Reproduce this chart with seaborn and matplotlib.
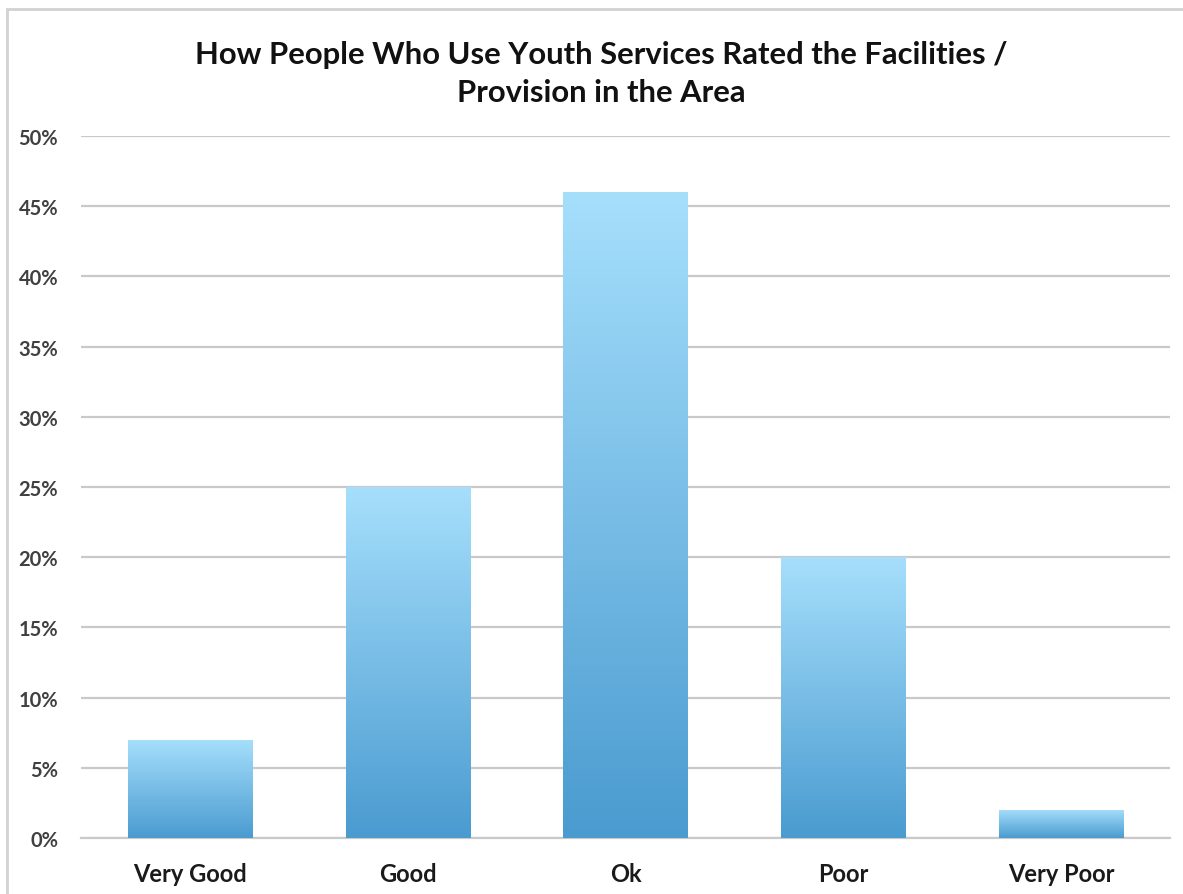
import matplotlib
matplotlib.use("Agg")
import matplotlib.pyplot as plt
from matplotlib.patches import Rectangle
from matplotlib.colors import LinearSegmentedColormap
from matplotlib.ticker import FuncFormatter
import numpy as np
import pandas as pd
import seaborn as sns

categories = ["Very Good", "Good", "Ok", "Poor", "Very Poor"]
shares = [0.07, 0.25, 0.46, 0.20, 0.02]
y_ticks = [0.0, 0.05, 0.10, 0.15, 0.20, 0.25, 0.30, 0.35, 0.40, 0.45, 0.50]
title = "How People Who Use Youth Services Rated the Facilities /\nProvision in the Area"

sns.set_theme(style="white")
plt.rcParams["font.family"] = ["Lato", "DejaVu Sans"]

df = pd.DataFrame({"rating": categories, "share": shares})

fig = plt.figure(figsize=(11.83, 8.95), dpi=100)
ax = fig.add_axes([81 / 1183, 1 - 839 / 895, (1170 - 81) / 1183, (839 - 137) / 895])

sns.barplot(data=df, x="rating", y="share", order=categories, ax=ax,
            width=0.57, color="#7fc0e8", saturation=1, zorder=3)

ax.set_ylim(0, 0.5)
ax.set_xlim(-0.5, len(categories) - 0.5)
ax.set_yticks(y_ticks)
ax.yaxis.set_major_formatter(FuncFormatter(lambda v, _: f"{round(v * 100)}%"))
ax.yaxis.grid(True, color="#c9c9c9", linewidth=1.6)
ax.set_axisbelow(True)
for side in ["top", "right", "left"]:
    ax.spines[side].set_visible(False)
ax.spines["bottom"].set_color("#c9c9c9")
ax.spines["bottom"].set_linewidth(1.6)
ax.set_xlabel("")
ax.set_ylabel("")
ax.tick_params(axis="y", length=0, pad=16.5, labelsize=14.5, labelcolor="#404040")
ax.tick_params(axis="x", length=0, pad=17, labelsize=17, labelcolor="#1a1a1a")
for lbl in ax.get_xticklabels():
    lbl.set_fontweight("bold")
for lbl in ax.get_yticklabels():
    lbl.set_fontweight("bold")

# vertical gradient fill inside each bar: light at the top, deeper blue at the base
grad = LinearSegmentedColormap.from_list("bar_grad", ["#4a9bd0", "#a6dffc"])
ramp = np.linspace(0, 1, 256).reshape(-1, 1)
for patch in ax.patches:
    x0, y0 = patch.get_x(), patch.get_y()
    w, h = patch.get_width(), patch.get_height()
    img = ax.imshow(ramp, cmap=grad, aspect="auto", origin="lower",
                    extent=[x0, x0 + w, y0, y0 + h], zorder=3.5)
    img.set_clip_path(patch)
    patch.set_facecolor("none")
    patch.set_edgecolor("none")
ax.set_xlim(-0.5, len(categories) - 0.5)
ax.set_ylim(0, 0.5)

fig.text(601 / 1183, 1 - 74 / 895, title, ha="center", va="center",
         fontsize=22.3, fontweight="bold", color="#111111", linespacing=1.45)

# outer chart frame
fig.patches.append(Rectangle((7 / 1183, -0.05), 1.2, 1 - 10 / 895 + 0.05,
                             transform=fig.transFigure, fill=False,
                             edgecolor="#d2d2d2", linewidth=2))

fig.savefig("out.png", dpi=100, facecolor="white")
